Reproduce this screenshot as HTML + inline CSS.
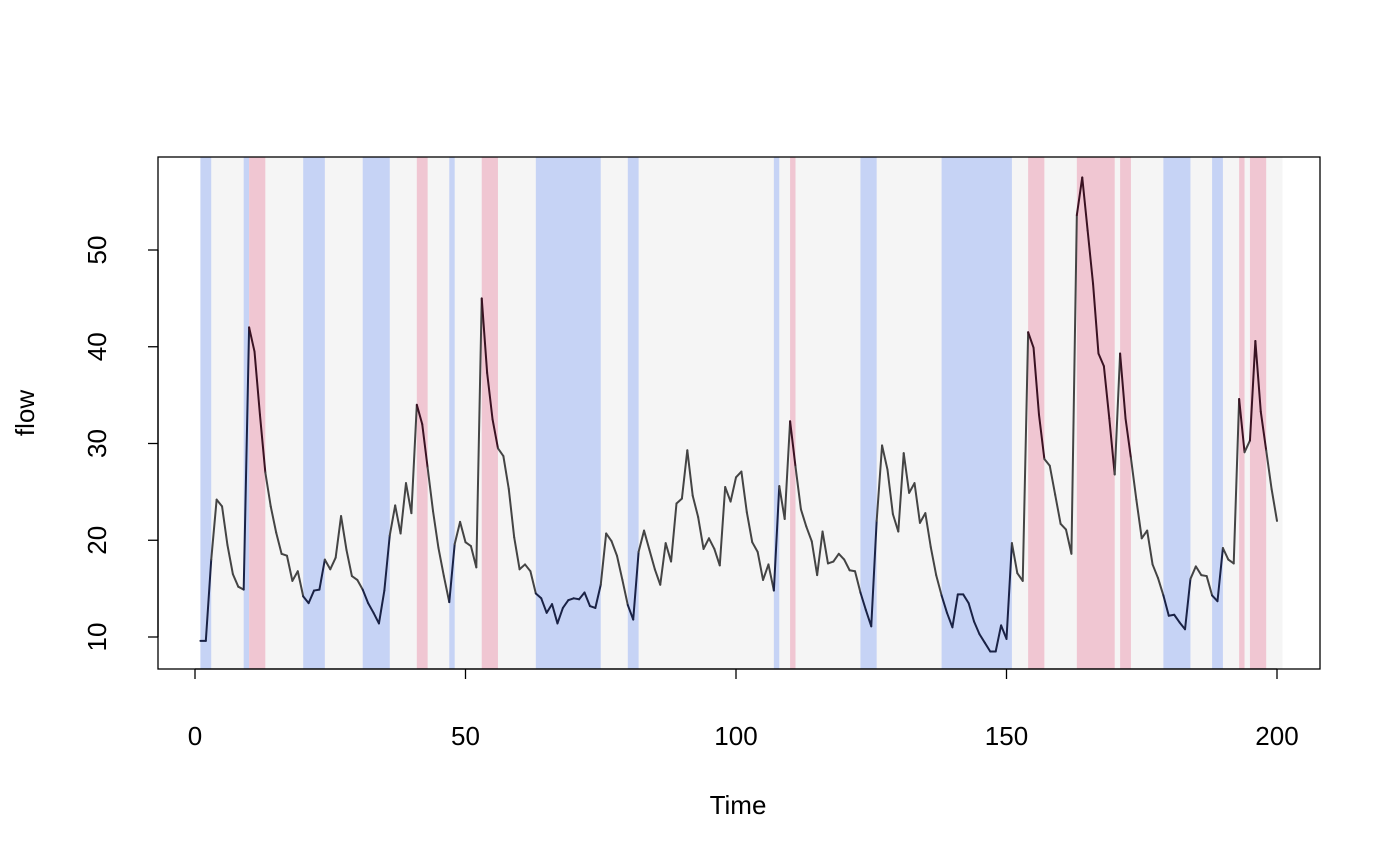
<!DOCTYPE html>
<html><head><meta charset="utf-8"><style>
body{margin:0;background:#fff}
svg{display:block;font-family:"Liberation Sans",sans-serif}
</style></head><body>
<svg id="chart" width="1400" height="866" viewBox="0 0 1400 866">
<g id="bands"></g>
<g id="line"></g>
<rect x="158" y="157" width="1162" height="512" fill="none" stroke="#000" stroke-width="1.3"/>
<g id="axes"></g>
<text x="738" y="814" font-size="26" text-anchor="middle">Time</text>
<text transform="translate(34,413) rotate(-90)" font-size="26" text-anchor="middle">flow</text>
</svg>
<script>
const flowValues=[9.6,9.6,18,24.2,23.5,19.5,16.5,15.2,14.9,42,39.5,33,27,23.5,20.8,18.6,18.4,15.8,16.8,14.2,13.5,14.8,14.9,18,17,18.2,22.5,19,16.3,15.9,14.9,13.5,12.5,11.4,14.8,20.5,23.6,20.7,25.9,22.8,34,32,27.5,23,19.2,16.3,13.6,19.6,21.9,19.8,19.4,17.2,45,37.3,32.5,29.5,28.7,25.3,20.3,17,17.5,16.8,14.5,14,12.5,13.4,11.4,13,13.8,14,13.9,14.6,13.2,13,15.4,20.7,19.9,18.4,15.9,13.3,11.8,18.8,21,19,17,15.4,19.7,17.8,23.8,24.3,29.3,24.6,22.4,19.1,20.2,19.1,17.4,25.5,24,26.5,27.1,22.9,19.8,18.8,15.9,17.5,14.8,25.6,22.2,32.3,27.6,23.2,21.4,19.9,16.4,20.9,17.6,17.8,18.6,18,16.9,16.8,14.6,12.8,11.1,22,29.8,27.3,22.7,20.9,29,24.9,25.9,21.8,22.8,19.3,16.4,14.3,12.5,11,14.4,14.4,13.5,11.6,10.3,9.4,8.5,8.5,11.2,9.8,19.7,16.6,15.8,41.5,39.9,33,28.4,27.7,24.7,21.7,21.1,18.6,53.6,57.5,52,46.5,39.3,38,32.6,26.8,39.3,32.6,28.5,24.2,20.2,21,17.5,16.1,14.3,12.2,12.3,11.5,10.8,16,17.3,16.4,16.3,14.3,13.7,19.2,18,17.6,34.6,29.1,30.3,40.6,33.3,29.3,25.3,22];
const blueStarts=[1,9,20,31,47,63,80,107,123,138,179,188];
const blueEnds=[3,10,24,36,48,75,82,108,126,151,184,190];
const pinkStarts=[10,41,53,110,154,163,171,193,195];
const pinkEnds=[13,43,56,111,157,170,173,194,198];
const xTicks=[0,50,100,150,200];
const yTicks=[10,20,30,40,50];
const NS="http://www.w3.org/2000/svg";
const X=t=>195+t*5.41;
const Y=v=>637-(v-10)*9.675;
function mk(tag,attrs,parent){const e=document.createElementNS(NS,tag);for(const k in attrs)e.setAttribute(k,attrs[k]);parent.appendChild(e);return e;}
const bands=document.getElementById('bands');
let g=mk('rect',{x:X(1),y:157,width:X(201)-X(1),height:512,fill:'#f5f5f5'},bands);


function inBand(t,s,e){for(let i=0;i<s.length;i++)if(t>=s[i]&&t<e[i])return true;return false;}
blueStarts.forEach((s,i)=>{const r=mk('rect',{x:X(s),y:157,width:X(blueEnds[i])-X(s),height:512,fill:'#c6d3f5'},bands);

});
pinkStarts.forEach((s,i)=>{const r=mk('rect',{x:X(s),y:157,width:X(pinkEnds[i])-X(s),height:512,fill:'#f0c6d2'},bands);

});
const line=document.getElementById('line');
for(let i=0;i<flowValues.length-1;i++){const t=i+1;
let c='#444';if(inBand(t,blueStarts,blueEnds))c='#1a2245';else if(inBand(t,pinkStarts,pinkEnds))c='#3a1222';
const l=mk('line',{x1:X(t),y1:Y(flowValues[i]),x2:X(t+1),y2:Y(flowValues[i+1]),stroke:c,'stroke-width':2,'stroke-linecap':'round'},line);

}
const axes=document.getElementById('axes');
mk('line',{x1:X(0),y1:669,x2:X(200),y2:669,stroke:'#000','stroke-width':1.3},axes);
xTicks.forEach(t=>{mk('line',{x1:X(t),y1:669,x2:X(t),y2:679,stroke:'#000','stroke-width':1.3},axes);
const tx=mk('text',{x:X(t),y:745,'font-size':26,'text-anchor':'middle'},axes);tx.textContent=t;

});
mk('line',{x1:158,y1:Y(10),x2:158,y2:Y(50),stroke:'#000','stroke-width':1.3},axes);
yTicks.forEach(v=>{mk('line',{x1:148,y1:Y(v),x2:158,y2:Y(v),stroke:'#000','stroke-width':1.3},axes);
const tx=mk('text',{transform:`translate(106,${Y(v)}) rotate(-90)`,'font-size':26,'text-anchor':'middle'},axes);tx.textContent=v;

});
</script>
</body></html>
